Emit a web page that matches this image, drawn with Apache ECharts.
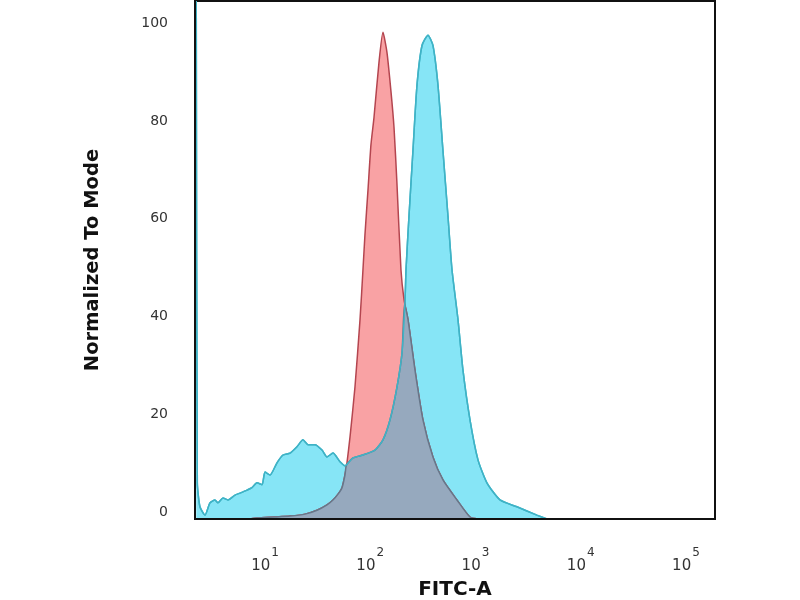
<!DOCTYPE html>
<html>
<head>
<meta charset="utf-8">
<script src="https://cdn.jsdelivr.net/npm/echarts@6/dist/echarts.min.js"></script>
<style>
  html, body { margin: 0; padding: 0; background: #fff; }
  #zoo { width: 800px; height: 600px; }
</style>
</head>
<body>
<div id="zoo"></div>
<script>
// x values are log10(FITC-A), y values are % of mode

var cyanLog = [0.385, 0.395, 0.420, 0.468, 0.515, 0.563, 0.591, 0.639, 0.686, 0.753, 0.800, 0.867, 0.914, 0.962,
    1.010, 1.038, 1.086, 1.152, 1.209, 1.276, 1.342, 1.399, 1.447, 1.513, 1.580, 1.627, 1.684, 1.751, 1.798,
    1.874, 1.969, 2.083, 2.159, 2.226, 2.292, 2.340, 2.368, 2.378, 2.406, 2.444, 2.482, 2.530, 2.587, 2.634,
    2.682, 2.729, 2.777, 2.815, 2.872, 2.919, 2.986, 3.062, 3.147, 3.271, 3.432, 3.622, 3.717];
var cyanPct = [106, 7.4, 2.5, 0.8, 3.3, 3.9, 3.3, 4.3, 3.9, 4.9, 5.3, 5.9, 6.4, 7.4,
    7.0, 9.6, 9.0, 11.5, 13.1, 13.5, 14.8, 16.2, 15.2, 15.2, 14.1, 12.7, 13.5, 11.7, 10.9,
    12.5, 13.1, 14.1, 16.2, 20.3, 27.0, 34.0, 44.3, 51.0, 61.9, 75.4, 88.7, 96.9, 99.0, 96.9,
    88.7, 75.4, 61.9, 51.0, 40.8, 30.5, 20.3, 12.1, 7.4, 3.9, 2.5, 0.8, 0];

var redLog = [0.895, 0.962, 1.133, 1.276, 1.418, 1.532, 1.627, 1.684, 1.732, 1.770, 1.798, 1.817, 1.846,
    1.893, 1.941, 1.969, 1.988, 2.017, 2.045, 2.074, 2.121, 2.159, 2.197, 2.235, 2.264, 2.292, 2.330,
    2.359, 2.397, 2.463, 2.539, 2.634, 2.729, 2.862, 2.986, 3.062];
var redPct = [0, 0.2, 0.4, 0.6, 1.0, 1.8, 2.9, 3.9, 5.1, 6.4, 9.0, 11.5, 16.8,
    27.0, 40.8, 51.0, 58.2, 67.4, 76.6, 82.2, 93.4, 99.6, 95.5, 87.5, 80.1, 68.6, 51.0,
    44.9, 40.8, 30.5, 20.3, 12.7, 8.0, 3.9, 0.4, 0];

// grey part where the two histograms overlap
var overlapLog = [0.895, 0.962, 1.133, 1.276, 1.418, 1.532, 1.627, 1.684, 1.732, 1.770, 1.798, 1.812,
    1.874, 1.969, 2.083, 2.159, 2.226, 2.292, 2.340, 2.364,
    2.397, 2.463, 2.539, 2.634, 2.729, 2.862, 2.986, 3.062];
var overlapPct = [0, 0.2, 0.4, 0.6, 1.0, 1.8, 2.9, 3.9, 5.1, 6.4, 9.0, 11.0,
    12.5, 13.1, 14.1, 16.2, 20.3, 27.0, 34.0, 44.0,
    40.8, 30.5, 20.3, 12.7, 8.0, 3.9, 0.4, 0];

var xTickExp = [1, 2, 3, 4, 5];
var yTicks = [0, 20, 40, 60, 80, 100];

function pairs(xs, ys) {
    var out = [];
    for (var i = 0; i < xs.length; i++) {
        out.push([xs[i], ys[i]]);
    }
    return out;
}

var myChart = echarts.init(document.getElementById('zoo'));

var option = {
    backgroundColor: '#fff',
    animation: false,
    grid: {
        left: 195, right: 85, top: 1, bottom: 81,
        outerBoundsMode: 'none',
        containLabel: false,
        show: true, borderColor: '#111', borderWidth: 2
    },
    xAxis: {
        type: 'value',
        min: 0.373,
        max: 5.314,
        z: 5,
        name: 'FITC-A',
        nameLocation: 'middle',
        nameGap: 61,
        nameTextStyle: { fontFamily: 'DejaVu Sans', fontWeight: 'bold', fontSize: 20, color: '#111' },
        axisLine: { show: true, lineStyle: { color: '#111', width: 2 } },
        axisTick: { show: false },
        splitLine: { show: false },
        axisLabel: {
            customValues: xTickExp,
            margin: 23,
            padding: [0, 0, 0, 8],
            formatter: function (v) { return '{b|10}{s|' + v + '}'; },
            rich: {
                b: { fontFamily: 'DejaVu Sans', fontSize: 15, color: '#333', verticalAlign: 'bottom', lineHeight: 32 },
                s: { fontFamily: 'DejaVu Sans', fontSize: 12, color: '#333', verticalAlign: 'bottom', lineHeight: 32, padding: [0, 0, 15, 1] }
            }
        }
    },
    yAxis: {
        type: 'value',
        min: 0,
        max: 106,
        z: 5,
        name: 'Normalized To Mode',
        nameLocation: 'middle',
        nameGap: 92,
        nameTextStyle: { fontFamily: 'DejaVu Sans', fontWeight: 'bold', fontSize: 19.5, color: '#111' },
        axisLine: { show: true, lineStyle: { color: '#111', width: 2 } },
        axisTick: { show: false },
        splitLine: { show: false },
        axisLabel: {
            customValues: yTicks,
            margin: 27,
            verticalAlign: 'bottom',
            fontFamily: 'DejaVu Sans',
            fontSize: 14,
            color: '#333'
        }
    },
    series: [
        {
            name: 'cyan',
            type: 'line',
            symbol: 'none',
            smooth: 0.2,
            data: pairs(cyanLog, cyanPct),
            lineStyle: { color: '#3fb3c6', width: 1.5 },
            areaStyle: { color: '#86e5f6', opacity: 1, origin: 'start' },
            z: 2
        },
        {
            name: 'red',
            type: 'line',
            symbol: 'none',
            smooth: 0.2,
            data: pairs(redLog, redPct),
            lineStyle: { color: '#b4454f', width: 1.5 },
            areaStyle: { color: '#f9a2a4', opacity: 1, origin: 'start' },
            z: 3
        },
        {
            name: 'overlap',
            type: 'line',
            symbol: 'none',
            smooth: 0.2,
            data: pairs(overlapLog, overlapPct),
            lineStyle: { color: '#66778a', width: 1.5 },
            areaStyle: { color: '#96a9be', opacity: 1, origin: 'start' },
            z: 4
        },
        {
            // cyan outline stays visible above the overlap
            name: 'cyanLine',
            type: 'line',
            symbol: 'none',
            smooth: 0.2,
            data: pairs(cyanLog, cyanPct),
            lineStyle: { color: '#3fb3c6', width: 1.5 },
            z: 4
        }
    ]
};

myChart.setOption(option);
</script>
</body>
</html>
